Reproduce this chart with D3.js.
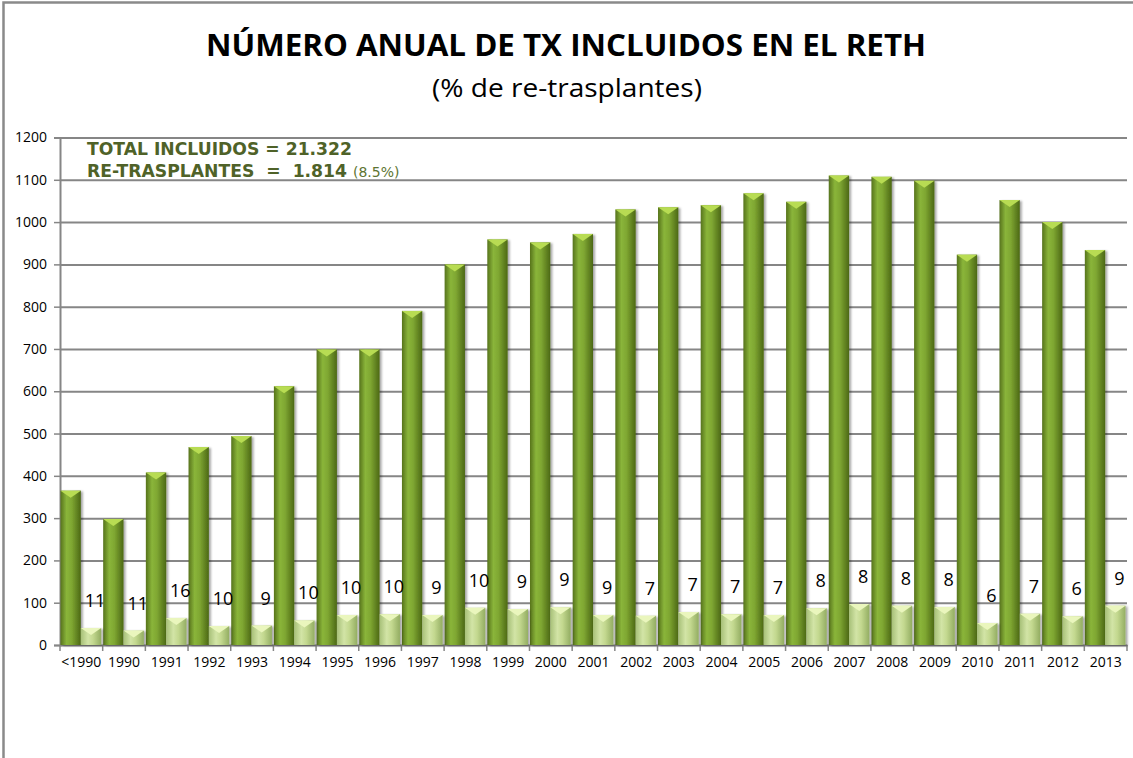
<!DOCTYPE html>
<html>
<head>
<meta charset="utf-8">
<script src="https://cdn.jsdelivr.net/npm/d3@7"></script>
<style>
  body { margin: 0; background: #fff; }
  svg { display: block; }
  .tick text { font-family: "Open Sans", sans-serif; font-size: 14px; fill: #000; }
</style>
</head>
<body>
<div id="chart"></div>
<script>
const categories = ['<1990', '1990', '1991', '1992', '1993', '1994', '1995', '1996', '1997', '1998', '1999', '2000',
  '2001', '2002', '2003', '2004', '2005', '2006', '2007', '2008', '2009', '2010', '2011', '2012', '2013'];
const incluidos = [365, 298, 408, 468, 494, 612, 699, 699, 790, 900, 959, 952,
  972, 1030, 1035, 1040, 1068, 1048, 1110, 1107, 1098, 923, 1052, 1000, 934];
const retrasplantes = [40, 34, 64, 45, 46, 58, 71, 73, 71, 88, 85, 89,
  71, 69, 78, 73, 71, 87, 97, 93, 90, 52, 74, 68, 93];
const porcentajes = [11, 11, 16, 10, 9, 10, 10, 10, 9, 10, 9, 9,
  9, 7, 7, 7, 7, 8, 8, 8, 8, 6, 7, 6, 9];
const yTicks = [0, 100, 200, 300, 400, 500, 600, 700, 800, 900, 1000, 1100, 1200];

const width = 1133, height = 758;
const plot = { left: 60, right: 1127, top: 137.5, bottom: 645 };

const svg = d3.select('#chart').append('svg').attr('width', width).attr('height', height);
const defs = svg.append('defs');

function hGradient(id, stops) {
  const g = defs.append('linearGradient').attr('id', id)
    .attr('x1', '0%').attr('x2', '100%').attr('y1', '0%').attr('y2', '0%');
  stops.forEach(s => g.append('stop').attr('offset', s[0]).attr('stop-color', s[1]));
}
hGradient('gMain', [['0%', '#56731c'], ['30%', '#8ab53a'], ['55%', '#7fa732'], ['100%', '#4c6815']]);
hGradient('gLight', [['0%', '#a7c078'], ['35%', '#d2e4a6'], ['60%', '#c3d88f'], ['100%', '#93ad62']]);

defs.append('filter').attr('id', 'shadow').attr('x', '-20%').attr('y', '-5%').attr('width', '150%').attr('height', '115%')
  .append('feDropShadow').attr('dx', 2).attr('dy', 1).attr('stdDeviation', 1.3)
  .attr('flood-color', '#000').attr('flood-opacity', 0.35);

// chart frame (cut off at right and bottom)
svg.append('rect').attr('x', 3.5).attr('y', 2.5).attr('width', 1140).attr('height', 800)
  .attr('fill', 'none').attr('stroke', '#8a8a8a').attr('stroke-width', 2.5);

// titles
svg.append('text').attr('x', 566).attr('y', 56).attr('text-anchor', 'middle')
  .attr('textLength', 720).attr('lengthAdjust', 'spacingAndGlyphs')
  .style('font-family', '"Open Sans", sans-serif').style('font-weight', 'bold').style('font-size', '31px')
  .text('NÚMERO ANUAL DE TX INCLUIDOS EN EL RETH');
svg.append('text').attr('x', 567).attr('y', 97).attr('text-anchor', 'middle')
  .attr('textLength', 270).attr('lengthAdjust', 'spacingAndGlyphs')
  .style('font-family', '"Open Sans", sans-serif').style('font-size', '25px')
  .text('(% de re-trasplantes)');

const x = d3.scaleBand().domain(categories).range([plot.left, plot.right]);
const y = d3.scaleLinear().domain([0, 1200]).range([plot.bottom, plot.top]);
const bw = x.bandwidth();
const barW = (bw - 2) / 2;

// gridlines + y axis
const yAxis = d3.axisLeft(y).tickValues(yTicks).tickFormat(d3.format('d')).tickSize(6).tickPadding(7);
const gy = svg.append('g').attr('transform', `translate(${plot.left},0)`).call(yAxis);
gy.select('.domain').attr('stroke', '#868686').attr('stroke-width', 2);
gy.selectAll('.tick line').attr('stroke', '#868686').attr('stroke-width', 1.5);
gy.selectAll('.tick').append('line')
  .attr('x1', 0).attr('x2', plot.right - plot.left)
  .attr('stroke', '#868686').attr('stroke-width', 2)
  .filter(d => d === 0).remove();

// x axis
const xAxis = d3.axisBottom(x).tickSize(0).tickPadding(12);
const gx = svg.append('g').attr('transform', `translate(0,${plot.bottom})`).call(xAxis);
gx.select('.domain').attr('stroke', '#868686').attr('stroke-width', 2);
gx.selectAll('.bound').data(d3.range(categories.length + 1)).enter().append('line')
  .attr('x1', i => plot.left + i * bw).attr('x2', i => plot.left + i * bw)
  .attr('y1', 0).attr('y2', 6).attr('stroke', '#868686').attr('stroke-width', 1.5);

// bars
function drawBars(cls, values, offset, fill, bevel) {
  const g = svg.append('g').attr('class', cls).attr('filter', 'url(#shadow)');
  const bar = g.selectAll('g').data(values).enter().append('g');
  bar.append('rect')
    .attr('x', (d, i) => x(categories[i]) + offset)
    .attr('y', d => y(d))
    .attr('width', barW)
    .attr('height', d => y(0) - y(d))
    .attr('fill', fill);
  bar.append('path')
    .attr('d', (d, i) => {
      const x0 = x(categories[i]) + offset, x1 = x0 + barW, t = y(d);
      return `M${x0},${t}L${x1},${t}L${(x0 + x1) / 2},${t + 7}Z`;
    })
    .attr('fill', bevel);
}
drawBars('incluidos', incluidos, 0.5, 'url(#gMain)', '#b8dc52');
drawBars('retx', retrasplantes, 0.5 + barW, 'url(#gLight)', '#eaf6bd');

// percentage labels
svg.append('g').selectAll('text').data(porcentajes).enter().append('text')
  .attr('x', (d, i) => x(categories[i]) + 0.5 + barW * 1.5 + 4)
  .attr('y', (d, i) => y(retrasplantes[i]) - 21)
  .attr('text-anchor', 'middle')
  .style('font-family', '"Open Sans", sans-serif').style('font-size', '18px')
  .text(d => d);

// totals box
const note = svg.append('g').style('font-family', '"DejaVu Sans", sans-serif').attr('fill', '#4f6228');
note.append('text').attr('x', 87).attr('y', 155)
  .style('font-weight', 'bold').style('font-size', '17.2px')
  .text('TOTAL INCLUIDOS = 21.322');
const t2 = note.append('text').attr('x', 87).attr('y', 177).style('white-space', 'pre');
t2.append('tspan').style('font-weight', 'bold').style('font-size', '17.2px').text('RE-TRASPLANTES  =  1.814 ');
t2.append('tspan').style('font-size', '14px').attr('fill', '#5d7431').text('(8.5%)');
</script>
</body>
</html>
